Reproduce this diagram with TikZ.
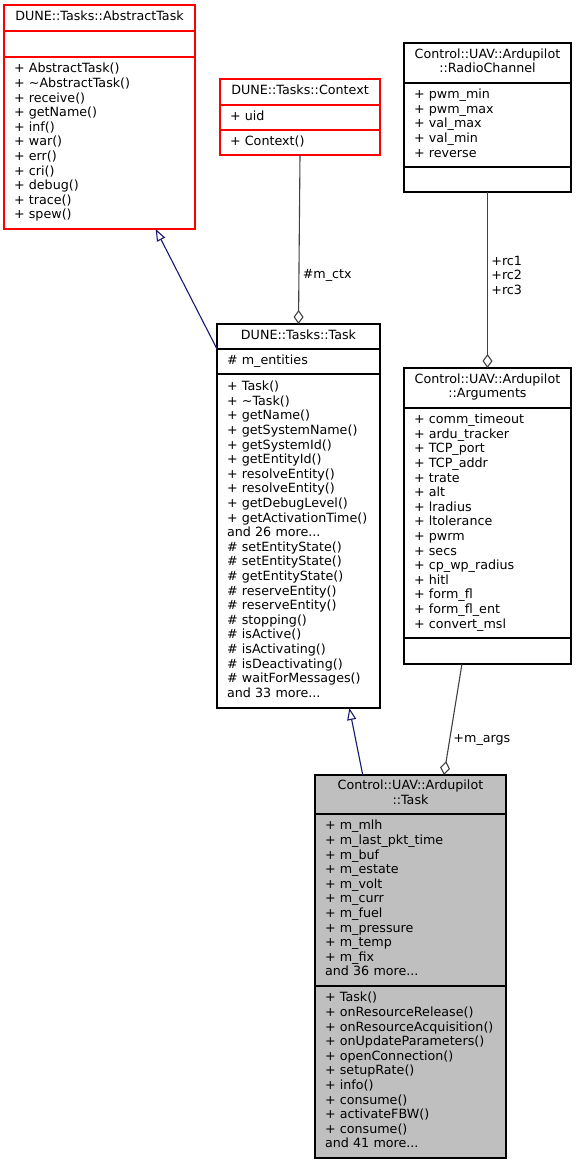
\documentclass[tikz,border=0pt]{standalone}
\usepackage{fontspec}
\setmainfont{DejaVu Sans}
\usetikzlibrary{positioning, arrows.meta, calc}
\definecolor{midnight}{HTML}{191970}
\definecolor{edgegray}{HTML}{404040}
\definecolor{classgray}{HTML}{BFBFBF}

\begin{document}
\begin{tikzpicture}[x=1pt,y=-1pt,
   font=\fontsize{12.7}{14.6}\selectfont,
   box/.style={draw=black,line width=1.1pt,inner sep=0pt,outer sep=0pt,anchor=north west,
      execute at begin node=\strut,execute at end node=\strut},
   redbox/.style={box,draw=red},
   greybox/.style={box,fill=classgray},
   members/.style={align=left,text width=#1},
   inherit/.style={draw=midnight,line width=1.1pt,-{Triangle[open,length=12pt,width=9pt]}},
   aggr/.style={draw=edgegray,line width=1.1pt,{Diamond[open,length=14pt,width=10pt]}-}]
   \useasboundingbox (0,0) rectangle (576,1165);

   % DUNE::Tasks::AbstractTask
   \node[redbox,minimum width=191pt,minimum height=26pt,align=center] (absT) at (4,5) {DUNE::Tasks::AbstractTask};
   \node[redbox,minimum width=191pt,minimum height=26pt] (absA) [below=0pt of absT] {};
   \node[redbox,minimum width=191pt,minimum height=172pt,members=171pt] (absM) [below=0pt of absA]
      {+ AbstractTask()\\+ \textasciitilde{}AbstractTask()\\+ receive()\\+ getName()\\+ inf()\\+ war()\\+ err()\\+ cri()\\+ debug()\\+ trace()\\+ spew()};

   % DUNE::Tasks::Context
   \node[redbox,minimum width=160pt,minimum height=26pt,align=center] (ctxT) at (220,79) {DUNE::Tasks::Context};
   \node[redbox,minimum width=160pt,minimum height=25pt,members=140pt] (ctxA) [below=0pt of ctxT] {+ uid};
   \node[redbox,minimum width=160pt,minimum height=25pt,members=140pt] (ctxM) [below=0pt of ctxA] {+ Context()};

   % Control::UAV::Ardupilot::RadioChannel
   \node[box,minimum width=167pt,minimum height=40pt,align=center] (rcT) at (404,43) {Control::UAV::Ardupilot\\::RadioChannel};
   \node[box,minimum width=167pt,minimum height=84pt,members=147pt] (rcA) [below=0pt of rcT]
      {+ pwm\_min\\+ pwm\_max\\+ val\_max\\+ val\_min\\+ reverse};
   \node[box,minimum width=167pt,minimum height=25pt] (rcM) [below=0pt of rcA] {};

   % DUNE::Tasks::Task
   \node[box,minimum width=163pt,minimum height=25pt,align=center] (dtT) at (217,324) {DUNE::Tasks::Task};
   \node[box,minimum width=163pt,minimum height=25pt,members=143pt] (dtA) [below=0pt of dtT] {\# m\_entities};
   \node[box,minimum width=163pt,minimum height=334pt,members=143pt] (dtM) [below=0pt of dtA]
      {+ Task()\\+ \textasciitilde{}Task()\\+ getName()\\+ getSystemName()\\+ getSystemId()\\+ getEntityId()\\+ resolveEntity()\\+ resolveEntity()\\+ getDebugLevel()\\+ getActivationTime()\\and 26 more...\\\# setEntityState()\\\# setEntityState()\\\# getEntityState()\\\# reserveEntity()\\\# reserveEntity()\\\# stopping()\\\# isActive()\\\# isActivating()\\\# isDeactivating()\\\# waitForMessages()\\and 33 more...};

   % Control::UAV::Ardupilot::Arguments
   \node[box,minimum width=167pt,minimum height=40pt,align=center] (argT) at (404,368) {Control::UAV::Ardupilot\\::Arguments};
   \node[box,minimum width=167pt,minimum height=230pt,members=147pt] (argA) [below=0pt of argT]
      {+ comm\_timeout\\+ ardu\_tracker\\+ TCP\_port\\+ TCP\_addr\\+ trate\\+ alt\\+ lradius\\+ ltolerance\\+ pwrm\\+ secs\\+ cp\_wp\_radius\\+ hitl\\+ form\_fl\\+ form\_fl\_ent\\+ convert\_msl};
   \node[box,minimum width=167pt,minimum height=26pt] (argM) [below=0pt of argA] {};

   % Control::UAV::Ardupilot::Task
   \node[greybox,minimum width=191pt,minimum height=39pt,align=center] (atT) at (315,775) {Control::UAV::Ardupilot\\::Task};
   \node[greybox,minimum width=191pt,minimum height=172pt,members=171pt] (atA) [below=0pt of atT]
      {+ m\_mlh\\+ m\_last\_pkt\_time\\+ m\_buf\\+ m\_estate\\+ m\_volt\\+ m\_curr\\+ m\_fuel\\+ m\_pressure\\+ m\_temp\\+ m\_fix\\and 36 more...};
   \node[greybox,minimum width=191pt,minimum height=172pt,members=171pt] (atM) [below=0pt of atA]
      {+ Task()\\+ onResourceRelease()\\+ onResourceAcquisition()\\+ onUpdateParameters()\\+ openConnection()\\+ setupRate()\\+ info()\\+ consume()\\+ activateFBW()\\+ consume()\\and 41 more...};

   % relations
   \draw[inherit] (dtT.south west) -- ($(absM.south west)!0.794!(absM.south east)$);
   \draw[aggr] (dtT.north) -- (ctxM.south) node[pos=0.29,right] {\#m\_ctx};
   \draw[aggr] (argT.north) -- (rcM.south) node[pos=0.528,right,align=left] {+rc1\\+rc2\\+rc3};
   \draw[inherit] ($(atT.north west)!0.25!(atT.north east)$) -- ($(dtM.south west)!0.812!(dtM.south east)$);
   \draw[aggr] ($(atT.north west)!0.675!(atT.north east)$) -- ($(argM.south west)!0.347!(argM.south east)$)
      node[pos=0.315,right] {+m\_args};
\end{tikzpicture}
\end{document}
